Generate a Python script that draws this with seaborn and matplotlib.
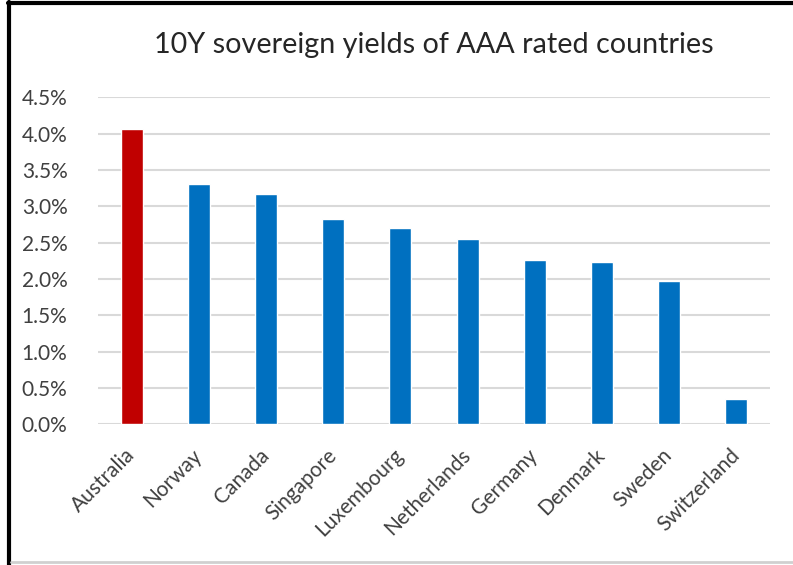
import matplotlib
matplotlib.use("Agg")
import matplotlib.pyplot as plt
import matplotlib.lines as mlines
import matplotlib.ticker as mticker
import pandas as pd
import seaborn as sns

# valores (%)
countries = ['Australia', 'Norway', 'Canada', 'Singapore', 'Luxembourg',
             'Netherlands', 'Germany', 'Denmark', 'Sweden', 'Switzerland']
yields = [4.07, 3.31, 3.17, 2.83, 2.70, 2.55, 2.26, 2.23, 1.97, 0.35]
colors = ['#C00000'] + ['#0070C0'] * 9

df = pd.DataFrame({'country': countries, 'yield': yields})

sns.set_style('white')
plt.rcParams['font.family'] = ['Lato', 'DejaVu Sans']

fig = plt.figure(figsize=(7.93, 5.65), dpi=100)
ax = fig.add_axes([98 / 793, 140.7 / 565, 672 / 793, 327.0 / 565])

sns.barplot(data=df, x='country', y='yield', hue='country', palette=colors,
            width=0.33, legend=False, ax=ax, saturation=1, zorder=3)

ax.set_ylim(0, 4.5)
ax.set_xlim(-0.5, 9.5)
ax.yaxis.set_major_locator(mticker.MultipleLocator(0.5))
ax.yaxis.set_major_formatter(mticker.FuncFormatter(lambda v, p: f'{v:.1f}%'))
ax.grid(axis='y', color='#D9D9D9', linewidth=1.5, zorder=0)
for s in ax.spines.values():
    s.set_visible(False)

ax.set_xlabel('')
ax.set_ylabel('')
ax.tick_params(axis='y', length=0, pad=22, labelsize=15, labelcolor='#404040')
ax.tick_params(axis='x', length=0, pad=20, labelsize=15, labelcolor='#404040')
for lbl in ax.get_xticklabels():
    lbl.set_rotation(45)
    lbl.set_ha('right')
    lbl.set_va('center')
    lbl.set_rotation_mode('anchor')

fig.text(434 / 793, 1 - 45 / 565, '10Y sovereign yields of AAA rated countries',
         ha='center', va='center', fontsize=20.7, color='#262626')

# moldura estilo Excel
fig.add_artist(mlines.Line2D([8 / 793, 1], [1 - 3 / 565, 1 - 3 / 565], color='black', linewidth=3))
fig.add_artist(mlines.Line2D([8.5 / 793, 8.5 / 793], [0, 1 - 2 / 565], color='black', linewidth=3))
fig.add_artist(mlines.Line2D([11 / 793, 1], [3 / 565, 3 / 565], color='#D0D0D0', linewidth=2))

fig.savefig('out.png', dpi=100)
